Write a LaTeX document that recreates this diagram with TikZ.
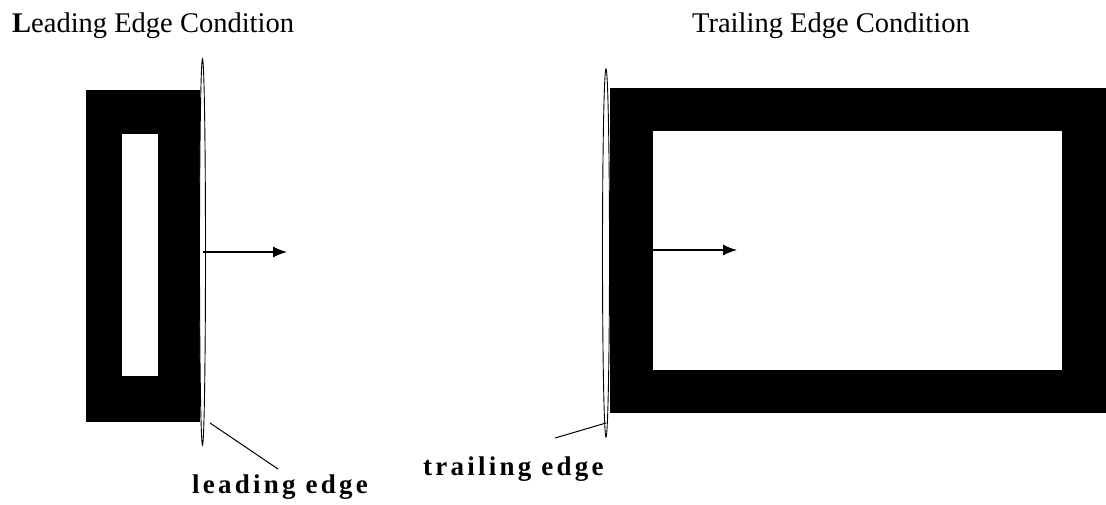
\documentclass[tikz,border=0pt]{standalone}
\usepackage{fontspec}
\setmainfont{Liberation Serif}
\newfontfamily\lblfont[LetterSpace=12]{Liberation Serif}
\usetikzlibrary{shapes.geometric,arrows.meta}
\begin{document}
\begin{tikzpicture}[x=1pt,y=-1pt,
  blk/.style={fill=black,draw=none,inner sep=0,anchor=north west},
  hole/.style={fill=white,draw=none,inner sep=0,anchor=north west},
  edgeell/.style={ellipse,draw=black,fill=white,line width=0.9pt,inner sep=0},
  motion/.style={line width=1.3pt,-{Latex[length=14pt,width=11pt]}},
  leader/.style={line width=1pt},
  title/.style={font=\fontsize{28.5}{30}\selectfont,inner sep=0},
  lbl/.style={font=\lblfont\bfseries\fontsize{27}{29}\selectfont,inner sep=0,anchor=base west}]
\useasboundingbox[fill=white] (0,0) rectangle (1106,504);
% titles
\node[title,anchor=base west] (t1) at (12,32) {\textbf{L}eading Edge Condition};
\node[title,anchor=base east] (t2) at (970,32) {Trailing Edge Condition};
% left: leading edge
\node[blk,minimum width=114pt,minimum height=332pt] (lo) at (86,90) {};
\node[hole,minimum width=36pt,minimum height=242pt] (li) at (122,134) {};
\node[edgeell,minimum width=6pt,minimum height=386pt] (le) at (202.5,252) {};
\coordinate (la) at (287,252);
\draw[motion] (le.center) -- (la);
% right: trailing edge
\node[blk,minimum width=496pt,minimum height=325pt] (ro) at (610,88) {};
\node[hole,minimum width=409pt,minimum height=239pt] (ri) at (653,131) {};
\node[edgeell,minimum width=7pt,minimum height=368pt] (re) at (606,253) {};
\coordinate (ra) at (737,250);
\draw[motion] (ri.west |- ra) -- (ra);
% labels
\node[lbl] (ll) at (192,493) {leading edge};
\node[lbl] (tl) at (423,475) {trailing edge};
\coordinate (l1) at (210,423);
\coordinate (l2) at (278,469);
\draw[leader] (l1) -- (l2);
\coordinate (t1a) at (555,438);
\coordinate (t1b) at (606,423);
\draw[leader] (t1a) .. controls (580,430) .. (t1b);
\end{tikzpicture}
\end{document}
